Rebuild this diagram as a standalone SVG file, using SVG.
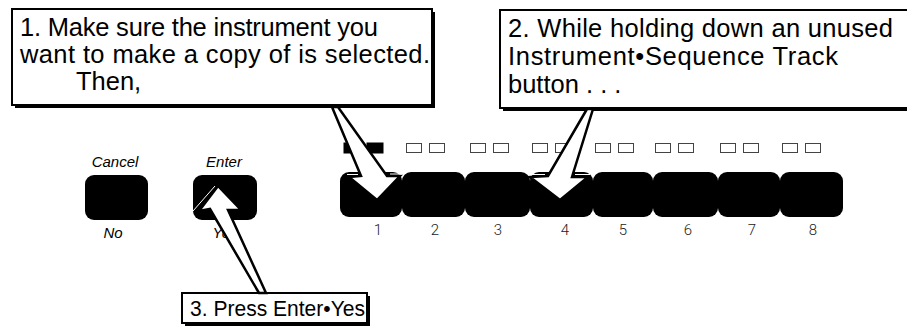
<svg xmlns="http://www.w3.org/2000/svg" width="907" height="328" viewBox="0 0 907 328">
<style>
.bg{fill:#fff}
.shadow{fill:#000}
.box{fill:#fff;stroke:#000;stroke-width:2}
.txt{font-family:"Liberation Sans",Arial,sans-serif;font-size:25.5px;fill:#000}
.btn{fill:#000}
.lbl{font-family:"Liberation Sans",Arial,sans-serif;font-style:italic;font-size:15px;fill:#000;text-anchor:middle}
.num{font-family:Roboto,"DejaVu Sans",sans-serif;font-weight:300;font-size:15px;fill:#222;text-anchor:middle}
.led{fill:#fff;stroke:#444;stroke-width:1}
.on{fill:#000;stroke:#000}
.arrow{fill:#fff;stroke:#000;stroke-width:2.5;stroke-linejoin:miter}
.halo{fill:none;stroke:#fff;stroke-width:1}
</style>
<rect class="bg" x="0" y="0" width="907" height="328"/>

<g id="leds">
<rect class="led on" x="344" y="143" width="16" height="10"/><rect class="led on" x="367" y="143" width="16" height="10"/>
<rect class="led" x="406.5" y="143.5" width="15" height="9"/><rect class="led" x="429.5" y="143.5" width="15" height="9"/>
<rect class="led" x="470.5" y="143.5" width="15" height="9"/><rect class="led" x="493.5" y="143.5" width="15" height="9"/>
<rect class="led" x="532.5" y="143.5" width="15" height="9"/><rect class="led" x="555.5" y="143.5" width="15" height="9"/>
<rect class="led" x="595.5" y="143.5" width="15" height="9"/><rect class="led" x="618.5" y="143.5" width="15" height="9"/>
<rect class="led" x="655.5" y="143.5" width="15" height="9"/><rect class="led" x="678.5" y="143.5" width="15" height="9"/>
<rect class="led" x="720.5" y="143.5" width="15" height="9"/><rect class="led" x="743.5" y="143.5" width="15" height="9"/>
<rect class="led" x="782.5" y="143.5" width="15" height="9"/><rect class="led" x="805.5" y="143.5" width="15" height="9"/>
</g>

<g id="cancel-button">
<text class="lbl" x="115" y="167">Cancel</text>
<rect class="btn" x="85" y="175" width="63" height="45" rx="9"/>
<text class="lbl" x="113" y="238">No</text>
</g>
<g id="enter-button">
<text class="lbl" x="224" y="167">Enter</text>
<rect class="btn" x="193" y="175" width="64" height="45" rx="9"/>
<text class="lbl" x="225" y="238">Yes</text>
</g>

<g id="track-buttons">
<g id="track1"><rect class="btn" x="340" y="172" width="62" height="45" rx="9"/><text class="num" x="378" y="235">1</text></g>
<g id="track2"><rect class="btn" x="402" y="172" width="63" height="45" rx="9"/><text class="num" x="435" y="235">2</text></g>
<g id="track3"><rect class="btn" x="465" y="172" width="65" height="45" rx="9"/><text class="num" x="498" y="235">3</text></g>
<g id="track4"><rect class="btn" x="530" y="172" width="63" height="45" rx="9"/><text class="num" x="565" y="235">4</text></g>
<g id="track5"><rect class="btn" x="593" y="172" width="60" height="45" rx="9"/><text class="num" x="623" y="235">5</text></g>
<g id="track6"><rect class="btn" x="653" y="172" width="65" height="45" rx="9"/><text class="num" x="688" y="235">6</text></g>
<g id="track7"><rect class="btn" x="718" y="172" width="62" height="45" rx="9"/><text class="num" x="752" y="235">7</text></g>
<g id="track8"><rect class="btn" x="780" y="172" width="63" height="45" rx="9"/><text class="num" x="813" y="235">8</text></g>
</g>

<g id="callout1">
<rect class="shadow" x="15" y="12" width="420" height="96"/>
<rect class="box" x="12" y="9" width="420" height="96"/>
<text class="txt" x="20" y="36" textLength="358" lengthAdjust="spacing">1. Make sure the instrument you</text>
<text class="txt" x="20" y="63" textLength="410" lengthAdjust="spacing">want to make a copy of is selected.</text>
<text class="txt" x="76" y="90">Then,</text>
</g>

<g id="callout2">
<rect class="shadow" x="503" y="13" width="420" height="98"/>
<rect class="box" x="500" y="10" width="420" height="98"/>
<text class="txt" x="508" y="37" textLength="385" lengthAdjust="spacing">2. While holding down an unused</text>
<text class="txt" x="508" y="65" textLength="330" lengthAdjust="spacing">Instrument•Sequence Track</text>
<text class="txt" x="508" y="93">button . . .</text>
</g>

<g id="callout3">
<rect class="shadow" x="185" y="296" width="185" height="30"/>
<rect class="box" x="182" y="293" width="185" height="30"/>
<text class="txt" x="190" y="316" style="font-size:22px" textLength="175" lengthAdjust="spacingAndGlyphs">3. Press Enter•Yes</text>
</g>

<g id="connectors">
<polygon class="arrow" points="332,107 361,176 349,177 377,200 400,176 387,176 338,107"/>
<path class="halo" d="M347,174.5 H358 M390,174 H402"/>
<polygon class="arrow" points="587,109 548,176 530,177 560,200 588,177 572,177 593,109"/>
<path class="halo" d="M528,174.5 H545 M575,174.5 H590"/>
<polygon class="arrow" points="259,293 210,209 199,211 218,186 241,210 228,210 266,293"/>
<path class="halo" d="M193,211 L215,186"/>
</g>
</svg>
